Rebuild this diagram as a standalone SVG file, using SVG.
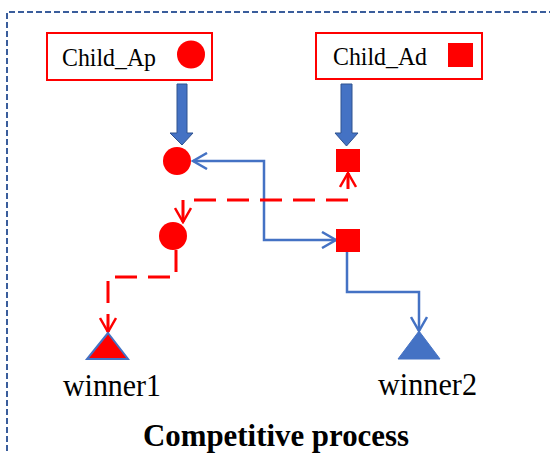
<svg xmlns="http://www.w3.org/2000/svg" width="550" height="454" viewBox="0 0 550 454">
  <style>
    .lbl { font-family: "Liberation Serif", "Times New Roman", serif; fill: #000; }
    .box { fill: #fff; stroke: #ff0000; stroke-width: 2; }
    .red { fill: #ff0000; }
    .thick { fill: #4472c4; stroke: #2f528f; stroke-width: 1; }
    .blueline { fill: none; stroke: #4472c4; stroke-width: 2.5; }
    .redline { fill: none; stroke: #ff0000; stroke-width: 3; stroke-dasharray: 22 11; }
  </style>
  <defs>
    <marker id="arrB" markerUnits="userSpaceOnUse" viewBox="0 0 18 18" markerWidth="18" markerHeight="18" refX="16" refY="9" orient="auto-start-reverse">
      <path d="M2,1 L16,9 L2,17" fill="none" stroke="#4472c4" stroke-width="2.5"/>
    </marker>
    <marker id="arrR" markerUnits="userSpaceOnUse" viewBox="0 0 18 18" markerWidth="18" markerHeight="18" refX="16" refY="9" orient="auto-start-reverse">
      <path d="M2,1 L16,9 L2,17" fill="none" stroke="#ff0000" stroke-width="2.5"/>
    </marker>
  </defs>
  <rect width="550" height="454" fill="#fff"/>
  <path id="border" d="M7,460 V12 H555" fill="none" stroke="#3a5d9c" stroke-width="2" stroke-dasharray="6 3"/>

  <g id="connectors">
    <polygon class="thick" points="177,84 187,84 187,133 193,133 182,145 170,133 177,133"/>
    <polygon class="thick" points="341,84 352,84 352,133 358,133 346.5,146 335,133 341,133"/>
    <path class="blueline" d="M193,161 H264 V240 H336" marker-start="url(#arrB)" marker-end="url(#arrB)"/>
    <path class="blueline" d="M347,252 V292 H419 V331" marker-end="url(#arrB)"/>
    <path class="redline" d="M183,222 V200 H348 V173" marker-start="url(#arrR)" marker-end="url(#arrR)"/>
    <path class="redline" d="M176,250 V277 H108 V332" marker-end="url(#arrR)"/>
  </g>

  <g id="child_ap">
    <rect class="box" x="47" y="33" width="165" height="47"/>
    <text class="lbl" x="62" y="66" font-size="25.5" textLength="94" lengthAdjust="spacingAndGlyphs">Child_Ap</text>
    <circle class="red" cx="191" cy="54.5" r="14"/>
  </g>
  <g id="child_ad">
    <rect class="box" x="316" y="33" width="166" height="46"/>
    <text class="lbl" x="333" y="65" font-size="25.5" textLength="94" lengthAdjust="spacingAndGlyphs">Child_Ad</text>
    <rect class="red" x="448" y="43" width="25" height="24"/>
  </g>
  <g id="ap_top">
    <circle class="red" cx="177" cy="161" r="14"/>
  </g>
  <g id="ad_top">
    <rect class="red" x="336" y="149" width="24" height="23"/>
  </g>
  <g id="ap_bottom">
    <circle class="red" cx="173" cy="236" r="14"/>
  </g>
  <g id="ad_bottom">
    <rect class="red" x="336" y="229" width="24" height="23"/>
  </g>
  <g id="winner1">
    <polygon points="108,333 87,359 128,359" fill="#ff0000" stroke="#4472c4" stroke-width="2"/>
    <text class="lbl" x="63" y="396" font-size="31" textLength="98" lengthAdjust="spacingAndGlyphs">winner1</text>
  </g>
  <g id="winner2">
    <polygon points="419,331 398,359 440,359" fill="#4472c4" stroke="#4472c4" stroke-width="1"/>
    <text class="lbl" x="378" y="395" font-size="31" textLength="99" lengthAdjust="spacingAndGlyphs">winner2</text>
  </g>
  <g id="title">
    <text class="lbl" x="143" y="446" font-size="32" font-weight="bold" textLength="266" lengthAdjust="spacingAndGlyphs">Competitive process</text>
  </g>
</svg>
